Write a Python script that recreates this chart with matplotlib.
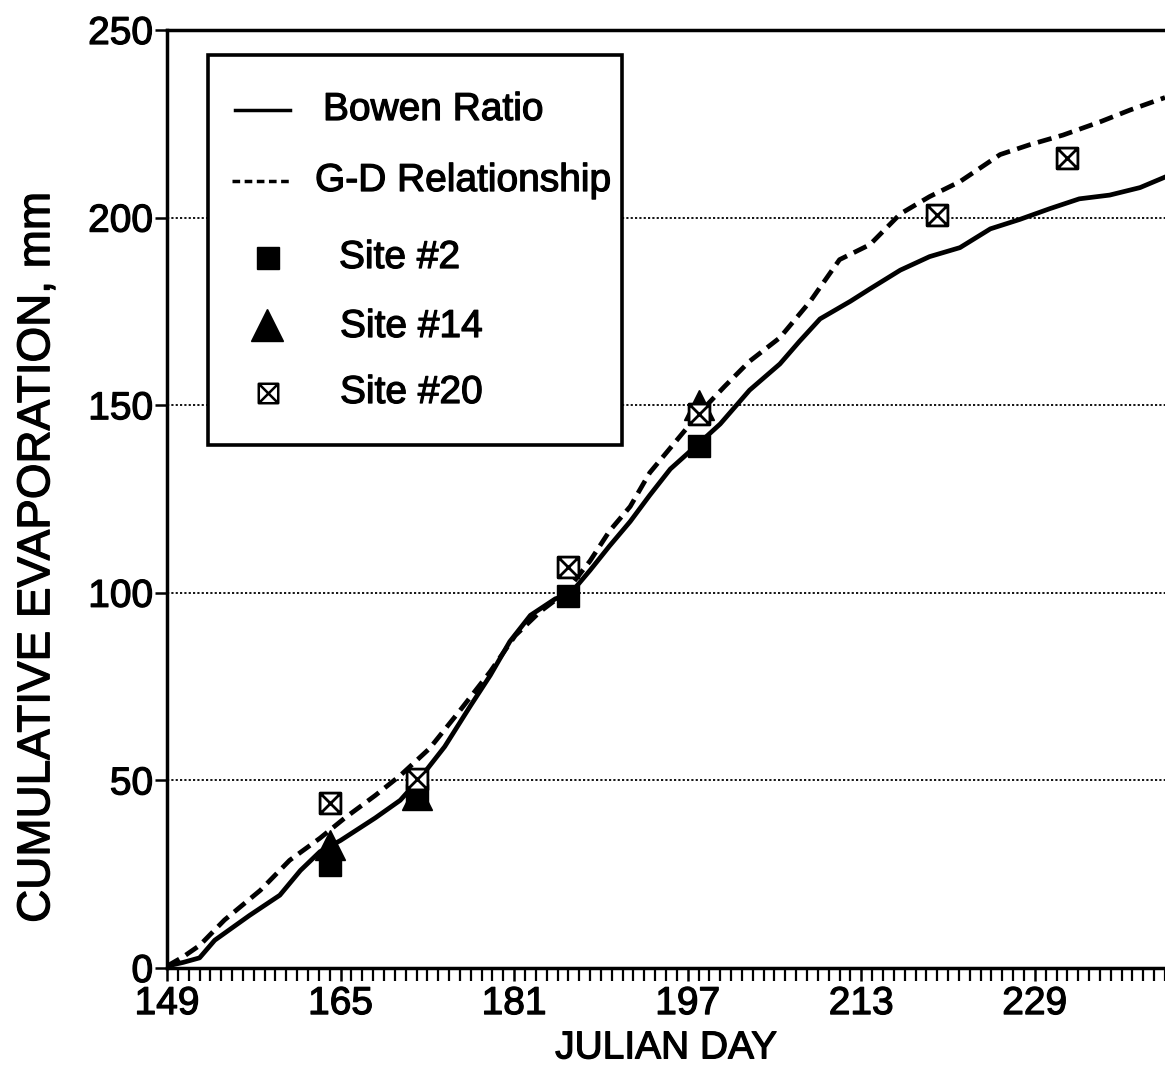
import matplotlib.pyplot as plt
import numpy as np
from matplotlib.path import Path
from matplotlib.lines import Line2D
from matplotlib.patches import Rectangle
import matplotlib.patheffects as pe

plt.rcParams['font.family'] = ['Liberation Sans', 'DejaVu Sans']

# Cumulative evaporation (mm) by Julian day
bowen_day = [149, 150.5, 152, 153.4, 156.6, 159.4, 161.3, 163.1, 165, 168.2, 170.5,
             172.3, 174.6, 177, 178.8, 180.6, 182.5, 184.8, 186.1, 188, 189.8, 191.7,
             193.5, 195.4, 198.1, 200, 202.7, 205.5, 207.3, 209.2, 212, 213.8, 216.6,
             219.3, 222.1, 224.9, 227.6, 230.4, 233.1, 235.9, 238.7, 241]
bowen_et = [0.5, 1.5, 2.7, 7.4, 14, 19.4, 26, 31, 34, 40, 44.7,
            50.5, 59, 70, 78, 87, 94, 98.4, 99.5, 106, 112.5, 119,
            126, 133, 140, 145, 154, 161, 167, 173, 177.7, 181, 186,
            189.6, 192, 197, 199.5, 202.4, 205, 206, 208, 210.8]

gd_day = [149, 150.5, 152, 154.3, 157.6, 160.3, 163.1, 165.4, 168.2, 170.5, 173.2,
          176, 178.8, 181.1, 183.4, 185.7, 188, 189.8, 191.7, 193.5, 195.8, 198.1,
          200.4, 202.7, 205.5, 208.3, 211, 213.8, 216.6, 219.3, 222.1, 225.8, 228.5,
          231.6, 235, 237.8, 241]
gd_et = [0.5, 3, 6, 12.8, 20.7, 28.7, 34.6, 40, 46, 51.3, 58.5,
         68.6, 79, 88.6, 95, 100, 108.5, 116.5, 123, 132, 140, 148,
         155, 161.7, 168, 177.7, 188.8, 192.8, 201, 205.6, 209.6, 216.8, 219.4,
         222, 225.5, 228.7, 232]

site2_day = [164, 172, 186, 198]
site2_et = [27.4, 46, 99.2, 139]
site14_day = [164, 172, 198]
site14_et = [32.7, 46, 150]
site20_day = [164, 172, 186, 198, 220, 232]
site20_et = [43.9, 50.5, 107, 147.6, 200.8, 216]

x_major = [149, 165, 181, 197, 213, 229]
y_major = [0, 50, 100, 150, 200, 250]

# square with a cross inside
boxx = Path([(-1, -1), (1, -1), (1, 1), (-1, 1), (-1, -1),
             (-1, -1), (1, 1), (-1, 1), (1, -1)],
            [Path.MOVETO, Path.LINETO, Path.LINETO, Path.LINETO, Path.CLOSEPOLY,
             Path.MOVETO, Path.LINETO, Path.MOVETO, Path.LINETO])

# slightly heavier text strokes
heavy = [pe.withStroke(linewidth=0.9, foreground='black')]
FS = 28

fig = plt.figure(figsize=(11.65, 10.69), dpi=100)
W, H = 1165, 1069
L, R, T, B = 167, 1165, 30, 968
ax = fig.add_axes([L / W, 1 - B / H, (R - L) / W, (B - T) / H])

ax.set_xlim(149, 241)
ax.set_ylim(0, 250)

for v in y_major[1:-1]:
    ax.axhline(v, color='black', lw=1.3, ls=(0, (1.2, 1.2)), zorder=1)

ax.plot(bowen_day, bowen_et, color='black', lw=3.4, zorder=3)
ax.plot(gd_day, gd_et, color='black', lw=3.4, ls=(0, (3.0, 1.6)), zorder=3)

ax.plot(site2_day, site2_et, ls='none', marker='s', ms=16, color='black', zorder=4)
ax.plot(site14_day, site14_et, ls='none', marker='^', ms=21, color='black', zorder=4)
ax.plot(site20_day, site20_et, ls='none', marker=boxx, ms=15, mfc='white',
        mec='black', mew=2.0, zorder=5)

ax.spines['right'].set_visible(False)
for s in ['left', 'top', 'bottom']:
    ax.spines[s].set_linewidth(2.5)

ax.set_xticks(x_major)
ax.set_xticks(np.arange(149, 242, 1), minor=True)
ax.set_yticks(y_major)
ax.tick_params(axis='both', which='both', direction='out', length=9, width=1.8,
               labelsize=FS, pad=1)
ax.tick_params(axis='x', which='minor', length=9, width=1.6)
ax.tick_params(axis='x', pad=4)
for lab in ax.get_xticklabels() + ax.get_yticklabels():
    lab.set_path_effects(heavy)

ax.set_xlabel('JULIAN DAY', fontsize=FS, labelpad=6, path_effects=heavy)
ax.set_ylabel('CUMULATIVE EVAPORATION, mm', fontsize=33, path_effects=heavy)
ax.yaxis.set_label_coords(-0.108, 0.438)


# legend box drawn in axes fraction, from pixel layout
def fx(px):
    return (px - L) / (R - L)


def fy(py):
    return (B - py) / (B - T)


ax.add_patch(Rectangle((fx(208), fy(445)), fx(622) - fx(208), fy(55) - fy(445),
                       transform=ax.transAxes, fill=True, fc='white', ec='black',
                       lw=2.6, zorder=6))
ax.add_line(Line2D([fx(235), fx(290)], [fy(110)] * 2, transform=ax.transAxes,
                   color='black', lw=2.5, zorder=7))
ax.add_line(Line2D([fx(232), fx(290)], [fy(181)] * 2, transform=ax.transAxes,
                   color='black', lw=2.5, ls=(0, (2.2, 1.3)), zorder=7))
ax.add_line(Line2D([fx(268)], [fy(258)], transform=ax.transAxes, marker='s', ms=16,
                   color='black', zorder=7))
ax.add_line(Line2D([fx(267)], [fy(325)], transform=ax.transAxes, marker='^', ms=23,
                   color='black', zorder=7))
ax.add_line(Line2D([fx(268)], [fy(393)], transform=ax.transAxes, marker=boxx, ms=14,
                   mfc='white', mec='black', mew=1.8, zorder=7))

legend_text = [('Bowen Ratio', 323, 110), ('G-D Relationship', 315, 181),
               ('Site #2', 339, 258), ('Site #14', 340, 327), ('Site #20', 340, 393)]
for txt, px, py in legend_text:
    ax.text(fx(px), fy(py), txt, transform=ax.transAxes, fontsize=FS,
            va='center', ha='left', zorder=8, path_effects=heavy)

fig.savefig('out.png', dpi=100)
